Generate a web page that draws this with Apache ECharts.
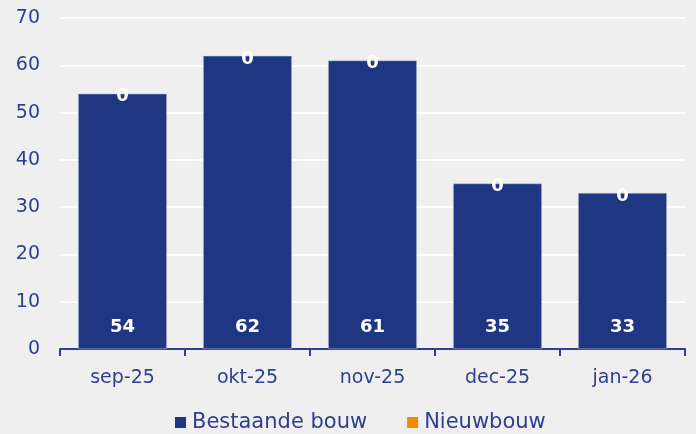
<!DOCTYPE html>
<html><head><meta charset="utf-8">
<script src="https://cdn.jsdelivr.net/npm/echarts@6/dist/echarts.min.js"></script>
<style>html,body{margin:0;padding:0;background:#efefef;}#c{width:696px;height:434px;}</style>
</head><body><div id="c"></div>
<script>
var categories = ['sep-25','okt-25','nov-25','dec-25','jan-26'];
var bestaande = [54, 62, 61, 35, 33];
var nieuwbouw = [0, 0, 0, 0, 0];
var yTicks = [0, 10, 20, 30, 40, 50, 60, 70];
var txt = '#2e3f8f';
var font = 'DejaVu Sans';
var chart = echarts.init(document.getElementById('c'));
chart.setOption({
  backgroundColor: '#efefef',
  animation: false,
  textStyle: {fontFamily: font},
  grid: {left: 60, right: 11, top: 18, bottom: 85, containLabel: false},
  legend: {
    top: 407, left: 170, itemWidth: 11, itemHeight: 11, itemGap: 40,
    icon: 'rect',
    itemStyle: {borderWidth: 0},
    textStyle: {color: txt, fontSize: 21, fontFamily: font, padding: [0, 0, 0, 1]},
    data: ['Bestaande bouw', 'Nieuwbouw']
  },
  xAxis: {
    type: 'category', data: categories,
    axisLine: {lineStyle: {color: '#2e3f8f', width: 2}},
    axisTick: {show: true, length: 7, lineStyle: {color: '#2e3f8f', width: 2}},
    axisLabel: {color: txt, fontSize: 19, margin: 20, fontFamily: font}
  },
  yAxis: {
    type: 'value', min: yTicks[0], max: yTicks[yTicks.length-1], interval: 10,
    axisLine: {show: false}, axisTick: {show: false},
    splitLine: {lineStyle: {color: '#ffffff', width: 2}},
    axisLabel: {color: txt, fontSize: 19, margin: 20, fontFamily: font, padding: [3, 0, 0, 0]}
  },
  series: [
    {
      name: 'Bestaande bouw', type: 'bar', stack: 'a', data: bestaande,
      barCategoryGap: '29%',
      itemStyle: {color: '#1f3683', borderColor: '#c8cde0', borderWidth: 0.5},
      label: {show: true, position: 'insideBottom', distance: 13, color: '#fff', fontWeight: 'bold', fontSize: 18, fontFamily: font}
    },
    {
      name: 'Nieuwbouw', type: 'bar', stack: 'a', data: nieuwbouw,
      itemStyle: {color: '#f08a00'},
      label: {show: true, position: 'inside', offset: [0, 3], color: '#fff', fontWeight: 'bold', fontSize: 18, fontFamily: font}
    }
  ]
});
</script></body></html>
